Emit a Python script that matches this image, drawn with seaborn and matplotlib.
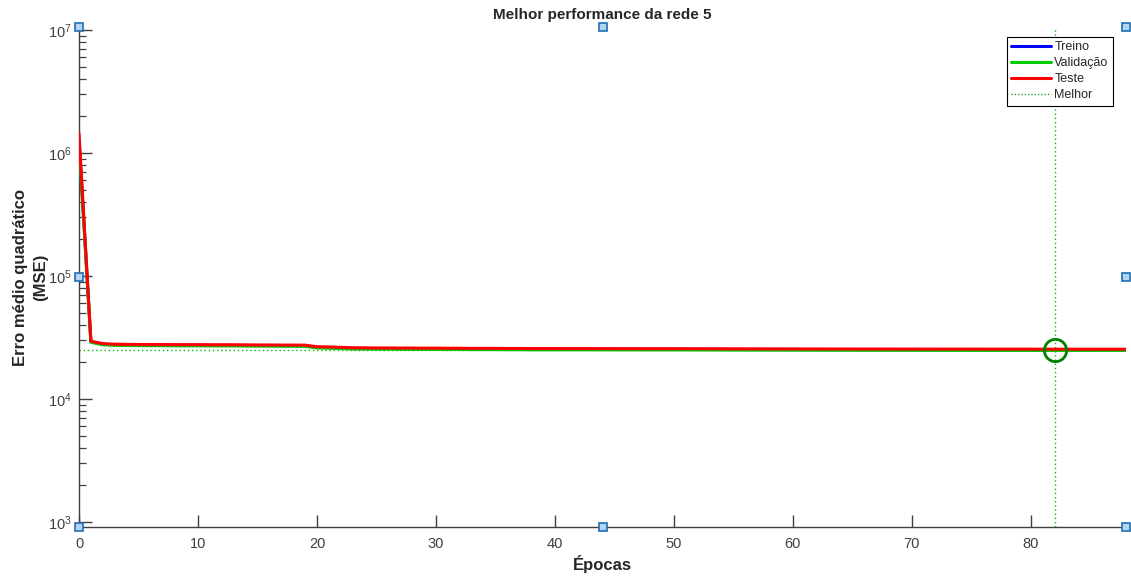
import numpy as np
import pandas as pd
import matplotlib
matplotlib.use("Agg")
import matplotlib.pyplot as plt
import seaborn as sns
from matplotlib.lines import Line2D

epochs = list(range(89))

treino = [1300000, 29200, 27900, 27600, 27500, 27450, 27400, 27400, 27350, 27350,
          27350, 27300, 27300, 27300, 27250, 27200, 27200, 27150, 27150, 27100,
          26300, 26200, 26000, 25800, 25750, 25700, 25700, 25650, 25650, 25600,
          25600, 25550, 25550, 25500, 25500, 25500, 25450, 25450, 25400, 25400,
          25400, 25400, 25400, 25400, 25380, 25380, 25360, 25360, 25350, 25350,
          25350, 25340, 25330, 25320, 25300, 25280, 25270, 25260, 25250, 25250,
          25240, 25230, 25220, 25210, 25200, 25200, 25190, 25180, 25180, 25170,
          25170, 25160, 25160, 25150, 25150, 25150, 25140, 25140, 25130, 25130,
          25120, 25110, 25100, 25100, 25100, 25100, 25090, 25090, 25090]

validacao = [1200000, 28900, 27600, 27300, 27200, 27150, 27100, 27100, 27050, 27050,
             27050, 27000, 27000, 27000, 26950, 26900, 26900, 26850, 26850, 26800,
             26000, 25900, 25700, 25500, 25450, 25400, 25400, 25350, 25350, 25300,
             25300, 25250, 25250, 25200, 25200, 25200, 25150, 25150, 25100, 25100,
             25100, 25100, 25100, 25100, 25080, 25080, 25060, 25060, 25050, 25050,
             25050, 25040, 25030, 25020, 25000, 24980, 24970, 24960, 24950, 24950,
             24940, 24930, 24920, 24910, 24900, 24900, 24890, 24880, 24880, 24870,
             24870, 24860, 24860, 24850, 24850, 24850, 24840, 24840, 24830, 24830,
             24820, 24810, 24800, 24810, 24820, 24820, 24830, 24830, 24840]

teste = [1450000, 29500, 28200, 27900, 27800, 27750, 27700, 27700, 27650, 27650,
         27650, 27600, 27600, 27600, 27550, 27500, 27500, 27450, 27450, 27400,
         26600, 26500, 26300, 26100, 26050, 26000, 26000, 25950, 25950, 25900,
         25900, 25850, 25850, 25800, 25800, 25800, 25750, 25750, 25700, 25700,
         25700, 25700, 25700, 25700, 25680, 25680, 25660, 25660, 25650, 25650,
         25650, 25640, 25630, 25620, 25600, 25580, 25570, 25560, 25550, 25550,
         25540, 25530, 25520, 25510, 25500, 25500, 25490, 25480, 25480, 25470,
         25470, 25460, 25460, 25450, 25450, 25450, 25440, 25440, 25430, 25430,
         25420, 25420, 25410, 25410, 25400, 25400, 25400, 25390, 25390]

series_names = ["Treino", "Validação", "Teste"]
best_label = "Melhor"
best_epoch = 82
best_value = 24800
x_ticks = [0, 10, 20, 30, 40, 50, 60, 70, 80]

sns.set_style("white")
plt.rcParams['font.family'] = ['Liberation Sans', 'DejaVu Sans']
plt.rcParams['mathtext.fontset'] = 'custom'
plt.rcParams['mathtext.rm'] = 'Liberation Sans'
plt.rcParams['mathtext.it'] = 'Liberation Sans:italic'
plt.rcParams['mathtext.bf'] = 'Liberation Sans:bold'

df = pd.DataFrame({
    "Época": epochs * 3,
    "MSE": treino + validacao + teste,
    "Série": [series_names[0]] * 89 + [series_names[1]] * 89 + [series_names[2]] * 89,
})

colors = {"Treino": (0, 0, 1), "Validação": (0, 0.8, 0), "Teste": (1, 0, 0)}

fig = plt.figure(figsize=(11.31, 5.76), dpi=100)
ax = fig.add_axes([79 / 1131, 49 / 576, 1047 / 1131, 500 / 576])

sns.lineplot(data=df, x="Época", y="MSE", hue="Série", hue_order=series_names,
             palette=colors, linewidth=2.2, legend=False, ax=ax, zorder=3)

best_color = (0.0, 0.75, 0.0)
ax.axvline(best_epoch, color=best_color, linestyle=(0, (1, 2)), linewidth=1.0, zorder=2)
ax.axhline(best_value, color=best_color, linestyle=(0, (1, 2)), linewidth=1.0, zorder=2)
ax.plot([best_epoch], [best_value], 'o', mfc='none', mec=(0, 0.5, 0), ms=16, mew=2, zorder=5)

ax.set_yscale('log')
ax.set_xlim(0, 88)
ax.set_ylim(10 ** (3 - 5 / 123), 10 ** (7 + 3 / 123))
ax.set_xticks(x_ticks)

axis_col = '#404040'
for s in ['top', 'right']:
    ax.spines[s].set_visible(False)
for s in ['left', 'bottom']:
    ax.spines[s].set_color(axis_col)
    ax.spines[s].set_linewidth(1.0)
ax.tick_params(axis='both', which='major', direction='in', length=9, width=1,
               colors=axis_col, labelsize=10.5, labelcolor='#404040',
               bottom=True, left=True, top=False, right=False)
ax.tick_params(axis='x', which='major', pad=7)
ax.tick_params(axis='y', which='major', pad=5)
ax.tick_params(axis='y', which='minor', direction='in', length=5, width=0.9,
               colors=axis_col, left=True, right=False)
ax.tick_params(axis='x', which='minor', bottom=False)
ax.grid(False)

ax.set_title("Melhor performance da rede 5", fontsize=11, fontweight='bold', pad=6)
ax.set_xlabel("Épocas", fontsize=12, fontweight='bold', color='#262626', labelpad=3)
ax.set_ylabel("Erro médio quadrático\n(MSE)", fontsize=12, fontweight='bold',
              color='#262626', labelpad=0, linespacing=1.4)

handles = [Line2D([0], [0], color=colors[n], lw=2.2) for n in series_names]
handles.append(Line2D([0], [0], color=(0, 0.6, 0), lw=0.9, linestyle=':'))
leg = ax.legend(handles, series_names + [best_label], loc='upper right',
                bbox_to_anchor=(0.9876, 0.98), fontsize=9, frameon=True,
                fancybox=False, edgecolor='black', framealpha=1,
                handlelength=3.2, handletextpad=0.25, borderpad=0.35,
                labelspacing=0.32, borderaxespad=0)
leg.get_frame().set_linewidth(0.8)
for t in leg.get_texts():
    t.set_color('#262626')

# selection handles around the axes box
hx = [0, 0.5, 1, 0, 1, 0, 0.5, 1]
hy = [1, 1, 1, 0.5, 0.5, 0, 0, 0]
ax.plot(hx, hy, 's', transform=ax.transAxes, clip_on=False, ms=5.5,
        mfc='#b7d4ee', mec='#1f6fb4', mew=1.2, zorder=10)

fig.savefig("out.png", dpi=100)
